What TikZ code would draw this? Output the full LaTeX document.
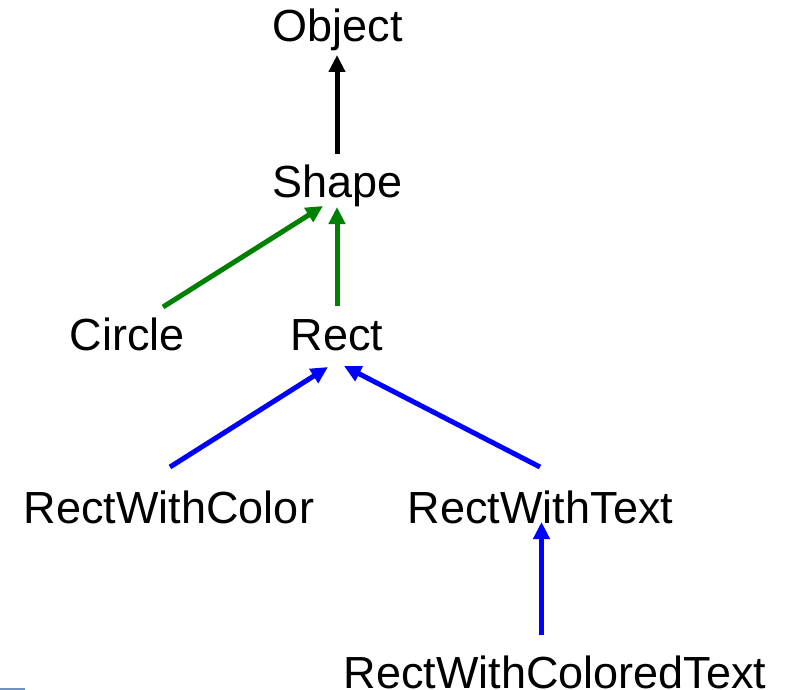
\documentclass[tikz,border=0pt]{standalone}
\usepackage{fontspec}
\setmainfont{Liberation Sans}
\usetikzlibrary{arrows.meta}
\definecolor{inhgreen}{RGB}{0,128,0}
\definecolor{inhblue}{RGB}{0,0,255}
\definecolor{edgemark}{RGB}{112,146,190}
\begin{document}
\begin{tikzpicture}[x=1pt,y=-1pt,
  cls/.style={anchor=base,inner sep=0pt,font=\fontsize{45}{54}\selectfont},
  inh/.style={line width=5pt,-{Triangle[length=17pt,width=16pt]}}]
\useasboundingbox (0,0) rectangle (790,690);

% class names
\node[cls] (obj)    at (337.5,41.5) {Object};
\node[cls] (shape)  at (337.5,197)  {Shape};
\node[cls] (circle) at (127.5,350)  {Circle};
\node[cls] (rect)   at (337,350)    {Rect};
\node[cls] (rwc)    at (169,523)    {RectWithColor};
\node[cls] (rwt)    at (540.5,523)  {RectWithText};
\node[cls] (rwct)   at (555,688)    {RectWithColoredText};

% inheritance arrows
\draw[inh,black] ([shift={(-0.5,-43)}]shape.base) -- ([shift={(-0.5,13.5)}]obj.base);
\draw[inh,inhgreen] ([shift={(35.5,-43)}]circle.base) -- ([shift={(-14.5,9)}]shape.base);
\draw[inh,inhgreen] ([shift={(0,-44)}]rect.base) -- ([shift={(-0.5,10)}]shape.base);
\draw[inh,inhblue] ([shift={(1,-56)}]rwc.base) -- ([shift={(-9,17)}]rect.base);
\draw[inh,inhblue] ([shift={(-0.5,-56)}]rwt.base) -- ([shift={(7,16)}]rect.base);
\draw[inh,inhblue] ([shift={(-13.5,-53)}]rwct.base) -- ([shift={(1,-1)}]rwt.base);

% short rule at the lower left edge
\fill[edgemark] (0,688) rectangle (25,690);
\end{tikzpicture}
\end{document}
